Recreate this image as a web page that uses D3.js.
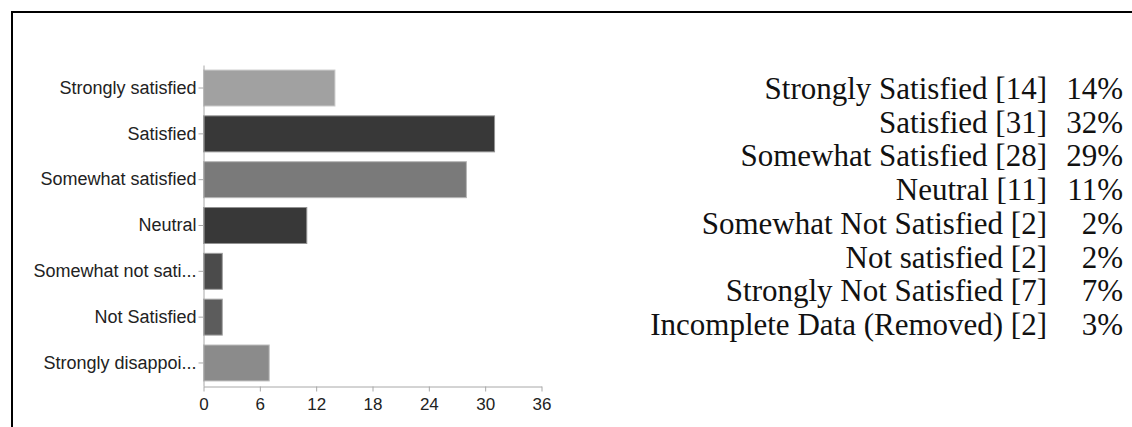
<!DOCTYPE html>
<html>
<head>
<meta charset="utf-8">
<script src="https://cdn.jsdelivr.net/npm/d3@7"></script>
<style>
  html, body { margin: 0; padding: 0; background: #fff; }
  svg { display: block; }
</style>
</head>
<body>
<svg id="chart" width="1132" height="427"></svg>
<script>
// Survey responses shown as bars
const categories = ["Strongly satisfied", "Satisfied", "Somewhat satisfied", "Neutral",
                    "Somewhat not sati...", "Not Satisfied", "Strongly disappoi..."];
const counts = [14, 31, 28, 11, 2, 2, 7];
const barColors = ["#a1a1a1", "#383838", "#7a7a7a", "#383838", "#4b4b4b", "#5c5c5c", "#8b8b8b"];
const xTicks = [0, 6, 12, 18, 24, 30, 36];

// Summary list on the right
const summaryLabels = ["Strongly Satisfied", "Satisfied", "Somewhat Satisfied", "Neutral",
                       "Somewhat Not Satisfied", "Not satisfied", "Strongly Not Satisfied",
                       "Incomplete Data (Removed)"];
const summaryCounts = [14, 31, 28, 11, 2, 2, 7, 2];
const summaryPercents = [14, 32, 29, 11, 2, 2, 7, 3];

const svg = d3.select("#chart");

// frame lines (top and left)
svg.append("line").attr("x1", 11).attr("x2", 1132).attr("y1", 12).attr("y2", 12)
  .attr("stroke", "#000").attr("stroke-width", 2);
svg.append("line").attr("x1", 12).attr("x2", 12).attr("y1", 11).attr("y2", 427)
  .attr("stroke", "#000").attr("stroke-width", 2);

const x = d3.scaleLinear().domain([0, 36]).range([203.5, 541.5]);
const y = d3.scaleBand().domain(categories).range([65, 386]).paddingInner(0.215).paddingOuter(0.11);

const g = svg.append("g");

g.selectAll("rect.bar")
  .data(categories)
  .join("rect")
  .attr("class", "bar")
  .attr("x", x(0))
  .attr("y", d => y(d))
  .attr("width", (d, i) => x(counts[i]) - x(0))
  .attr("height", y.bandwidth())
  .attr("fill", (d, i) => barColors[i])
  .attr("stroke", (d, i) => d3.interpolateRgb(barColors[i], "#ffffff")(0.45))
  .attr("stroke-width", 1);

// category axis
const yAxis = g.append("g")
  .attr("transform", `translate(${x(0)},0)`)
  .call(d3.axisLeft(y).tickSize(5).tickSizeOuter(0).tickPadding(2));
yAxis.select(".domain").attr("stroke", "#a8a8a8");
yAxis.selectAll(".tick line").attr("stroke", "#a8a8a8");
yAxis.selectAll(".tick text")
  .attr("font-family", "Liberation Sans, Arial, Helvetica, sans-serif")
  .attr("font-size", 18)
  .attr("fill", "#222");

// value axis
const xAxis = g.append("g")
  .attr("transform", `translate(0,386.5)`)
  .call(d3.axisBottom(x).tickValues(xTicks).tickSize(5).tickSizeOuter(0).tickPadding(6));
xAxis.select(".domain").attr("stroke", "#a8a8a8");
xAxis.selectAll(".tick line").attr("stroke", "#a8a8a8");
xAxis.selectAll(".tick text")
  .attr("font-family", "Liberation Sans, Arial, Helvetica, sans-serif")
  .attr("font-size", 17)
  .attr("fill", "#222");

// summary list
const rowY = d3.scaleLinear().domain([0, 7]).range([99, 335]);
const list = svg.append("g")
  .attr("font-family", "Liberation Serif, Times New Roman, serif")
  .attr("font-size", 31)
  .attr("fill", "#111");

list.selectAll("text.lab")
  .data(summaryLabels)
  .join("text")
  .attr("class", "lab")
  .attr("x", 1047)
  .attr("y", (d, i) => rowY(i))
  .attr("text-anchor", "end")
  .text((d, i) => `${d} [${summaryCounts[i]}]`);

list.selectAll("text.pct")
  .data(summaryPercents)
  .join("text")
  .attr("class", "pct")
  .attr("x", 1123)
  .attr("y", (d, i) => rowY(i))
  .attr("text-anchor", "end")
  .text(d => `${d}%`);
</script>
</body>
</html>
